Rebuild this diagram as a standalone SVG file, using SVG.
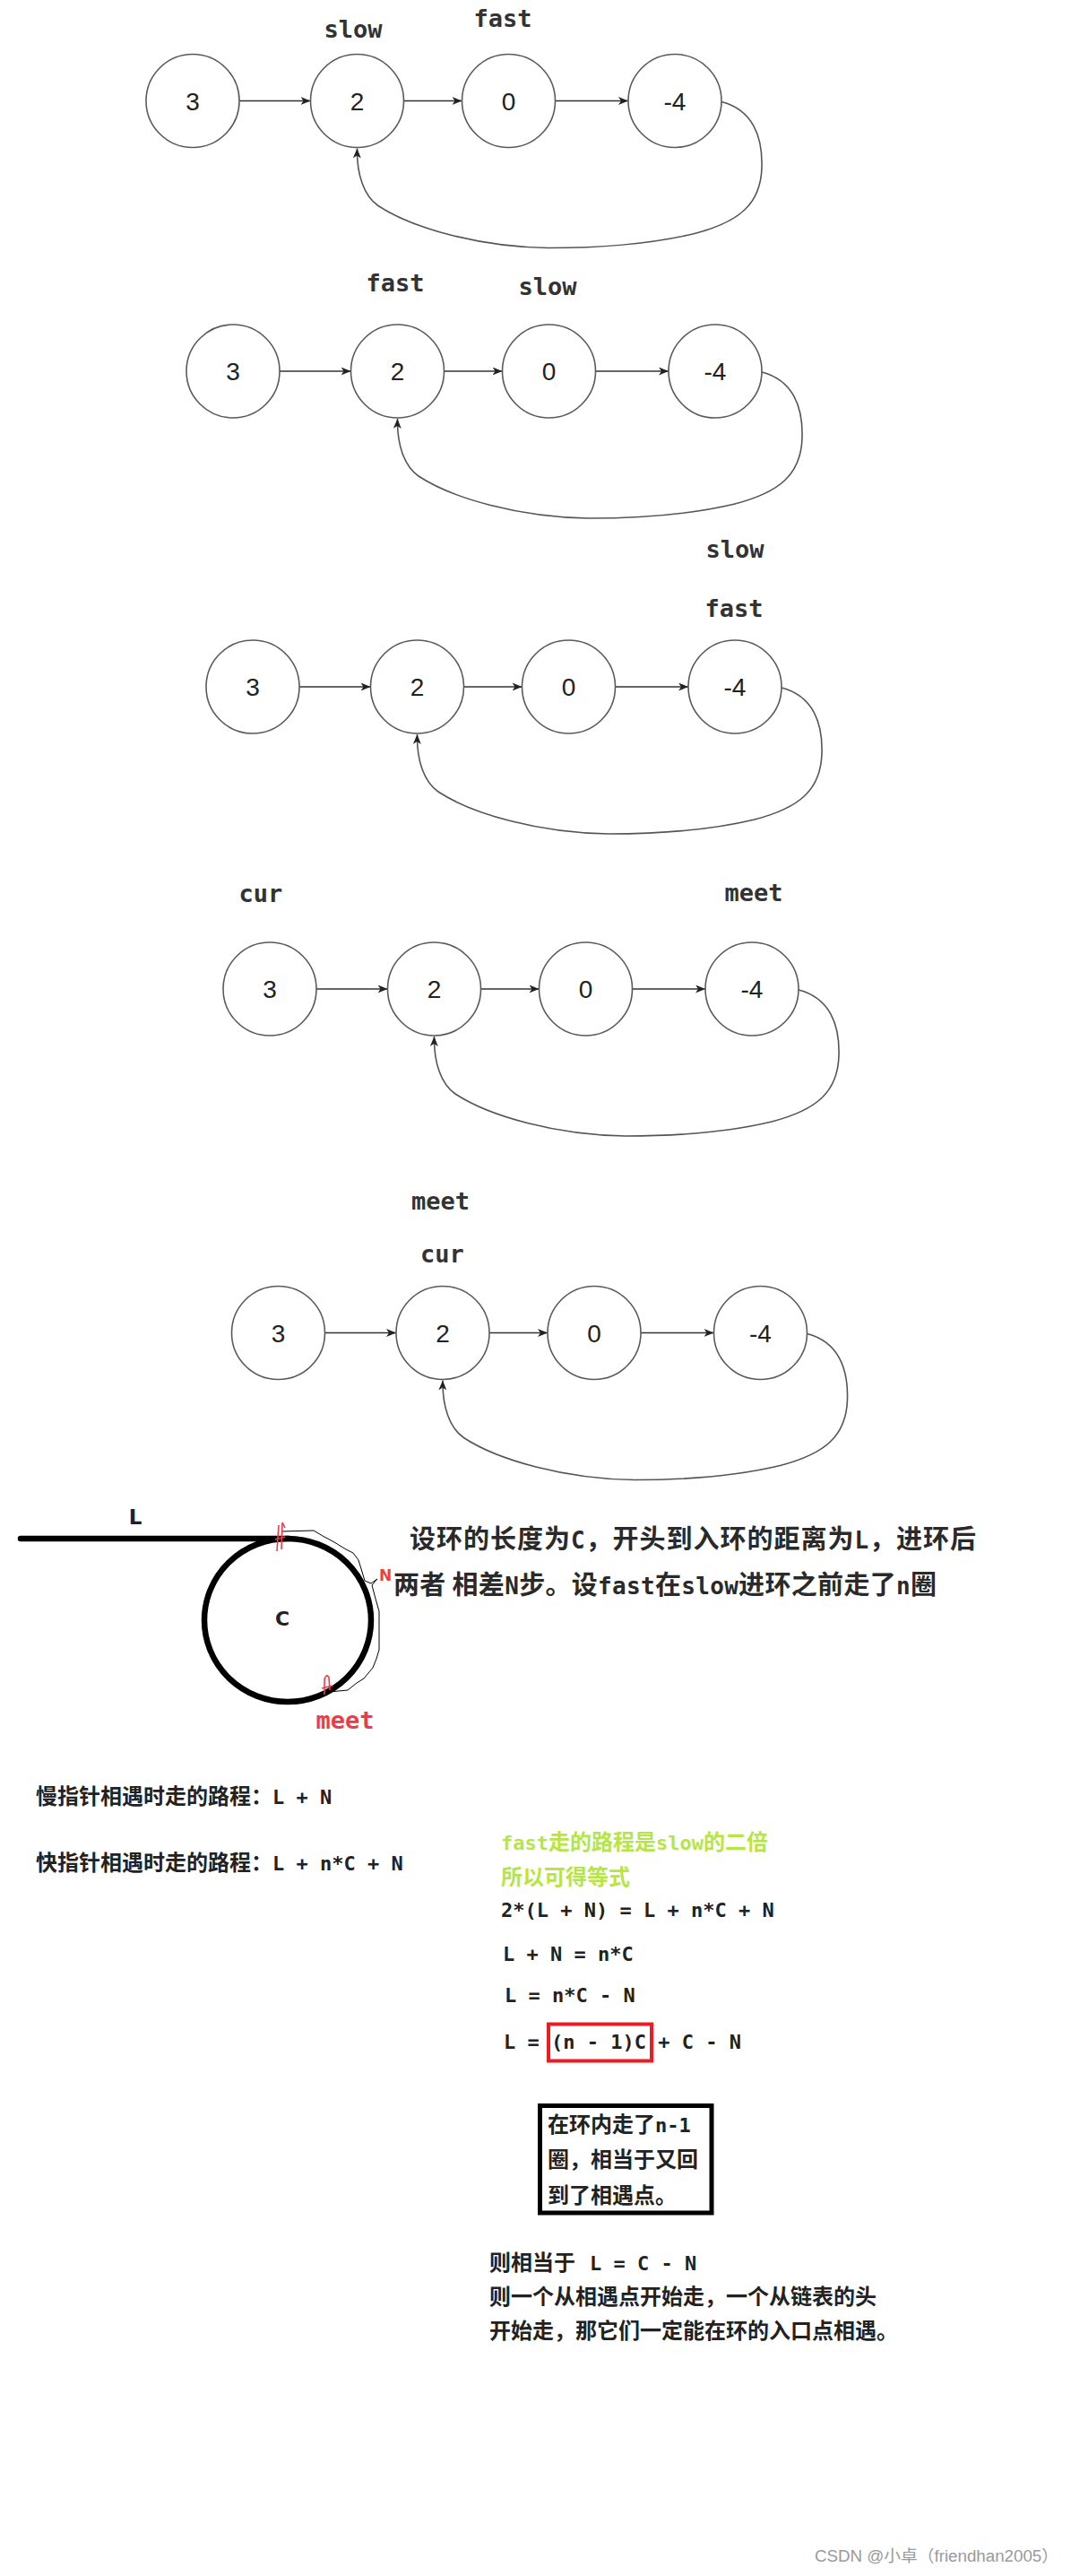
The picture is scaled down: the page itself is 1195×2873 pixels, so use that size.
<svg xmlns="http://www.w3.org/2000/svg" width="1195" height="2873" viewBox="0 0 1195 2873">
<defs>
<style>
.node circle{fill:#fff;stroke:#5a5a5a;stroke-width:1.6}
.node text{font-family:"Liberation Sans",Arial,sans-serif;font-size:28px;fill:#222;text-anchor:middle}
.edge{fill:none;stroke:#333;stroke-width:1.5}
.loop{fill:none;stroke:#555;stroke-width:1.6}
.lbl{font-family:"DejaVu Sans Mono",monospace;font-weight:bold;font-size:27px;fill:#333;text-anchor:middle}
.cj{font-family:"Noto Sans CJK SC",sans-serif;font-weight:bold;font-size:24px;fill:#222}
.m{font-family:"DejaVu Sans Mono",monospace;font-size:22px}
.p1{font-family:"Noto Sans CJK SC",sans-serif;font-weight:bold;font-size:29px;fill:#2a2a2a}
.m2{font-family:"DejaVu Sans Mono",monospace;font-size:26px}
.green{fill:#b5e546}
.red{fill:#ee3b4a}
.redline{fill:none;stroke:#ee3b4a;stroke-width:1.6}
</style>
<marker id="arr" viewBox="0 0 11 9" markerUnits="userSpaceOnUse" markerWidth="11" markerHeight="9" refX="11" refY="4.5" orient="auto">
<path d="M0,0 L11,4.5 L0,9 L3,4.5 z" fill="#222"/>
</marker>
</defs>
<rect width="1195" height="2873" fill="#fff"/>

<!-- Diagram 1 -->
<g id="d1" transform="translate(215,112.5)">
<g id="d1-edges">
<line class="edge" x1="52" y1="0" x2="131.5" y2="0" marker-end="url(#arr)"/>
<line class="edge" x1="235.5" y1="0" x2="300.5" y2="0" marker-end="url(#arr)"/>
<line class="edge" x1="404.5" y1="0" x2="486" y2="0" marker-end="url(#arr)"/>
<path class="loop" d="M590,1 C625,10 636,40 635,74 C634,115 610,135 560,148 C510,160 450,164 397,164 C320,163 245,142 207,117 C191,106 183,82 183.5,53" marker-end="url(#arr)"/>
</g>
<g id="d1-n3" class="node"><circle cx="0" cy="0" r="52"/><text x="0" y="10">3</text></g>
<g id="d1-n2" class="node"><circle cx="183.5" cy="0" r="52"/><text x="183.5" y="10">2</text></g>
<g id="d1-n0" class="node"><circle cx="352.5" cy="0" r="52"/><text x="352.5" y="10">0</text></g>
<g id="d1-n4" class="node"><circle cx="538" cy="0" r="52"/><text x="538" y="10">-4</text></g>
<text class="lbl" x="179" y="-70.5">slow</text>
<text class="lbl" x="346" y="-82.5">fast</text>
</g>

<!-- Diagram 2 -->
<g id="d2" transform="translate(260,414)">
<g id="d2-edges">
<line class="edge" x1="52" y1="0" x2="131.5" y2="0" marker-end="url(#arr)"/>
<line class="edge" x1="235.5" y1="0" x2="300.5" y2="0" marker-end="url(#arr)"/>
<line class="edge" x1="404.5" y1="0" x2="486" y2="0" marker-end="url(#arr)"/>
<path class="loop" d="M590,1 C625,10 636,40 635,74 C634,115 610,135 560,148 C510,160 450,164 397,164 C320,163 245,142 207,117 C191,106 183,82 183.5,53" marker-end="url(#arr)"/>
</g>
<g id="d2-n3" class="node"><circle cx="0" cy="0" r="52"/><text x="0" y="10">3</text></g>
<g id="d2-n2" class="node"><circle cx="183.5" cy="0" r="52"/><text x="183.5" y="10">2</text></g>
<g id="d2-n0" class="node"><circle cx="352.5" cy="0" r="52"/><text x="352.5" y="10">0</text></g>
<g id="d2-n4" class="node"><circle cx="538" cy="0" r="52"/><text x="538" y="10">-4</text></g>
<text class="lbl" x="181" y="-89">fast</text>
<text class="lbl" x="351" y="-85">slow</text>
</g>

<!-- Diagram 3 -->
<g id="d3" transform="translate(282,766)">
<g id="d3-edges">
<line class="edge" x1="52" y1="0" x2="131.5" y2="0" marker-end="url(#arr)"/>
<line class="edge" x1="235.5" y1="0" x2="300.5" y2="0" marker-end="url(#arr)"/>
<line class="edge" x1="404.5" y1="0" x2="486" y2="0" marker-end="url(#arr)"/>
<path class="loop" d="M590,1 C625,10 636,40 635,74 C634,115 610,135 560,148 C510,160 450,164 397,164 C320,163 245,142 207,117 C191,106 183,82 183.5,53" marker-end="url(#arr)"/>
</g>
<g id="d3-n3" class="node"><circle cx="0" cy="0" r="52"/><text x="0" y="10">3</text></g>
<g id="d3-n2" class="node"><circle cx="183.5" cy="0" r="52"/><text x="183.5" y="10">2</text></g>
<g id="d3-n0" class="node"><circle cx="352.5" cy="0" r="52"/><text x="352.5" y="10">0</text></g>
<g id="d3-n4" class="node"><circle cx="538" cy="0" r="52"/><text x="538" y="10">-4</text></g>
<text class="lbl" x="538" y="-144">slow</text>
<text class="lbl" x="537" y="-78">fast</text>
</g>

<!-- Diagram 4 -->
<g id="d4" transform="translate(301,1103)">
<g id="d4-edges">
<line class="edge" x1="52" y1="0" x2="131.5" y2="0" marker-end="url(#arr)"/>
<line class="edge" x1="235.5" y1="0" x2="300.5" y2="0" marker-end="url(#arr)"/>
<line class="edge" x1="404.5" y1="0" x2="486" y2="0" marker-end="url(#arr)"/>
<path class="loop" d="M590,1 C625,10 636,40 635,74 C634,115 610,135 560,148 C510,160 450,164 397,164 C320,163 245,142 207,117 C191,106 183,82 183.5,53" marker-end="url(#arr)"/>
</g>
<g id="d4-n3" class="node"><circle cx="0" cy="0" r="52"/><text x="0" y="10">3</text></g>
<g id="d4-n2" class="node"><circle cx="183.5" cy="0" r="52"/><text x="183.5" y="10">2</text></g>
<g id="d4-n0" class="node"><circle cx="352.5" cy="0" r="52"/><text x="352.5" y="10">0</text></g>
<g id="d4-n4" class="node"><circle cx="538" cy="0" r="52"/><text x="538" y="10">-4</text></g>
<text class="lbl" x="-10" y="-97">cur</text>
<text class="lbl" x="540" y="-98">meet</text>
</g>

<!-- Diagram 5 -->
<g id="d5" transform="translate(310.5,1486.5)">
<g id="d5-edges">
<line class="edge" x1="52" y1="0" x2="131.5" y2="0" marker-end="url(#arr)"/>
<line class="edge" x1="235.5" y1="0" x2="300.5" y2="0" marker-end="url(#arr)"/>
<line class="edge" x1="404.5" y1="0" x2="486" y2="0" marker-end="url(#arr)"/>
<path class="loop" d="M590,1 C625,10 636,40 635,74 C634,115 610,135 560,148 C510,160 450,164 397,164 C320,163 245,142 207,117 C191,106 183,82 183.5,53" marker-end="url(#arr)"/>
</g>
<g id="d5-n3" class="node"><circle cx="0" cy="0" r="52"/><text x="0" y="10">3</text></g>
<g id="d5-n2" class="node"><circle cx="183.5" cy="0" r="52"/><text x="183.5" y="10">2</text></g>
<g id="d5-n0" class="node"><circle cx="352.5" cy="0" r="52"/><text x="352.5" y="10">0</text></g>
<g id="d5-n4" class="node"><circle cx="538" cy="0" r="52"/><text x="538" y="10">-4</text></g>
<text class="lbl" x="181" y="-138">meet</text>
<text class="lbl" x="183" y="-78.5">cur</text>
</g>

<!-- Ring figure -->
<g id="ring">
<line x1="23" y1="1716" x2="322" y2="1716" stroke="#000" stroke-width="6.5" stroke-linecap="round"/>
<ellipse cx="321" cy="1807" rx="93" ry="91" fill="none" stroke="#000" stroke-width="6.5"/>
<path d="M314,1708 L350,1707 L360,1713 L373,1720 L386,1728 L394,1732 L400,1740 L404,1753 L407,1763 L414,1766 L421,1761 L415,1768 L419,1783 L423,1797 L423,1840 L420,1850 L416,1860 L406,1872 L398,1877 L388,1885 L367,1887" fill="none" stroke="#000" stroke-width="1"/>
<path class="redline" d="M309,1730 L311,1701 M314,1728 L315,1698 L318,1704 M307,1717 L318,1714"/>
<path class="redline" d="M362,1890 L362,1873 Q364,1866 367,1871 L368,1885 M359,1883 L371,1880"/>
<text x="151" y="1700" font-family="DejaVu Sans,sans-serif" font-weight="bold" font-size="23" fill="#222" text-anchor="middle">L</text>
<text x="315" y="1813" font-family="DejaVu Sans,sans-serif" font-weight="bold" font-size="22" fill="#222" text-anchor="middle">C</text>
<text x="430" y="1763" class="red" font-family="DejaVu Sans,sans-serif" font-weight="bold" font-size="17" text-anchor="middle">N</text>
<text x="385" y="1928" class="red" font-family="DejaVu Sans Mono,monospace" font-weight="bold" font-size="27" text-anchor="middle">meet</text>
</g>

<!-- Explanation texts -->
<g id="notes">
<text class="p1" x="457" y="1727" textLength="632" lengthAdjust="spacing">设环的长度为<tspan class="m2">C</tspan>，开头到入环的距离为<tspan class="m2">L</tspan>，进环后</text>
<text class="p1" x="439" y="1778" textLength="606" lengthAdjust="spacing">两者 相差<tspan class="m2">N</tspan>步。设<tspan class="m2">fast</tspan>在<tspan class="m2">slow</tspan>进环之前走了<tspan class="m2">n</tspan>圈</text>

<text class="cj" x="40" y="2012">慢指针相遇时走的路程：<tspan class="m">L + N</tspan></text>
<text class="cj" x="40" y="2086">快指针相遇时走的路程：<tspan class="m">L + n*C + N</tspan></text>

<text class="cj green" x="559" y="2063"><tspan class="m">fast</tspan>走的路程是<tspan class="m">slow</tspan>的二倍</text>
<text class="cj green" x="559" y="2102">所以可得等式</text>
<text class="cj" x="559" y="2138"><tspan class="m">2*(L + N) = L + n*C + N</tspan></text>
<text class="cj" x="561" y="2187"><tspan class="m">L + N = n*C</tspan></text>
<text class="cj" x="563" y="2233"><tspan class="m">L = n*C - N</tspan></text>
<text class="cj" x="562" y="2285"><tspan class="m">L = (n - 1)C + C - N</tspan></text>
<rect x="612" y="2257.5" width="115" height="41" fill="none" stroke="#ed1c24" stroke-width="4"/>

<rect x="602.5" y="2348.5" width="191.5" height="119.5" fill="none" stroke="#000" stroke-width="5"/>
<text class="cj" x="611" y="2378">在环内走了<tspan class="m">n-1</tspan></text>
<text class="cj" x="611" y="2417">圈，相当于又回</text>
<text class="cj" x="611" y="2457">到了相遇点。</text>

<text class="cj" x="546" y="2532">则相当于<tspan class="m" dx="16">L = C - N</tspan></text>
<text class="cj" x="546" y="2570">则一个从相遇点开始走，一个从链表的头</text>
<text class="cj" x="546" y="2608">开始走，那它们一定能在环的入口点相遇。</text>

<text x="909" y="2857" font-family="Liberation Sans,Noto Sans CJK SC,sans-serif" font-size="18" fill="#9a9a9a" textLength="272" lengthAdjust="spacingAndGlyphs">CSDN @小卓（friendhan2005）</text>
</g>
</svg>
